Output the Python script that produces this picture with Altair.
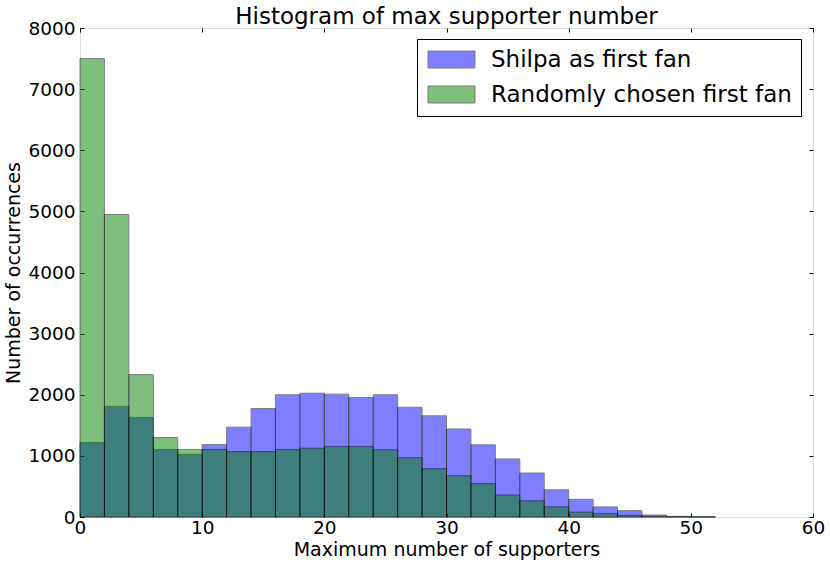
import altair as alt
import pandas as pd

# bin edges (width 2)
bin_start = [0, 2, 4, 6, 8, 10, 12, 14, 16, 18, 20, 22, 24, 26, 28, 30, 32, 34, 36, 38, 40, 42, 44, 46, 48, 50]
bin_width = 2
shilpa = [1220, 1810, 1630, 1105, 1025, 1185, 1470, 1775, 2000, 2025, 2010, 1955, 2000, 1795,
          1655, 1440, 1180, 950, 720, 445, 290, 165, 105, 32, 10, 4]
random_fan = [7500, 4950, 2330, 1300, 1105, 1105, 1070, 1070, 1105, 1125, 1155, 1155, 1100, 970,
              790, 675, 545, 360, 265, 165, 80, 55, 25, 12, 4, 1]
series_names = ["Shilpa as first fan", "Randomly chosen first fan"]
series_colors = ["#0000ff", "#008000"]
x_ticks = [0, 10, 20, 30, 40, 50, 60]
y_ticks = [0, 1000, 2000, 3000, 4000, 5000, 6000, 7000, 8000]

rows = []
for name, vals in zip(series_names, [shilpa, random_fan]):
    for s, v in zip(bin_start, vals):
        rows.append({"series": name, "start": s, "end": s + bin_width, "count": v})
df = pd.DataFrame(rows)

FONT = "DejaVu Sans"
W, H = 733, 489
# wide rectangle swatch (47 x 17 px at symbolSize 289)
rect_path = "M-2.765,-1L2.765,-1L2.765,1L-2.765,1Z"

x_scale = alt.Scale(domain=[0, 60], nice=False, zero=False)
y_scale = alt.Scale(domain=[0, 8000], nice=False)

main = alt.Chart(df).mark_bar(
    opacity=0.5, stroke="black", strokeWidth=1, binSpacing=0
).encode(
    x=alt.X("start:Q", scale=x_scale,
            axis=alt.Axis(values=x_ticks, title="Maximum number of supporters", grid=False,
                          ticks=False, domain=False, labelFlush=False, labelOverlap=False,
                          format="d",
                          labelFontSize=18.5, labelFont=FONT, labelColor="black",
                          labelPadding=1, titleFontSize=19, titleFont=FONT,
                          titleFontWeight="normal", titleColor="black", titlePadding=4)),
    x2="end:Q",
    y=alt.Y("count:Q", stack=None, scale=y_scale,
            axis=alt.Axis(values=y_ticks, title="Number of occurrences", grid=False,
                          ticks=False, domain=False, labelFlush=False, labelOverlap=False,
                          format="d",
                          labelFontSize=18.5, labelFont=FONT, labelColor="black",
                          labelPadding=5, titleFontSize=19, titleFont=FONT,
                          titleFontWeight="normal", titleColor="black", titlePadding=4)),
    y2=alt.datum(0),
    color=alt.Color("series:N", sort=series_names,
                    scale=alt.Scale(domain=series_names, range=series_colors),
                    legend=alt.Legend(orient="none", legendX=337, legendY=11, title=None,
                                      fillColor="white", strokeColor="black", padding=9,
                                      symbolType=rect_path, symbolSize=289,
                                      symbolOffset=14,
                                      symbolOpacity=0.5, symbolStrokeColor="black",
                                      symbolStrokeWidth=1, labelFontSize=23, labelFont=FONT,
                                      labelColor="black", labelOffset=28, rowPadding=11,
                                      labelLimit=400)),
    order=alt.Order("order_key:Q"),
).transform_calculate(
    order_key="datum.series == 'Shilpa as first fan' ? 0 : 1"
)


def tick_axis(orient, n, vals):
    return alt.Axis(orient=orient, offset=-n, values=vals, labels=False, title=None,
                    grid=False, domain=False, ticks=True, tickSize=4,
                    tickColor="black", tickWidth=1)


def ticks_layer(x_orient, y_orient):
    return alt.Chart(df).mark_bar(opacity=0).encode(
        x=alt.X("start:Q", scale=x_scale, axis=tick_axis(x_orient, H, x_ticks)),
        x2="end:Q",
        y=alt.Y("count:Q", stack=None, scale=y_scale, axis=tick_axis(y_orient, W, y_ticks)),
        y2=alt.datum(0),
    )


chart = alt.layer(
    main, ticks_layer("top", "right"), ticks_layer("bottom", "left")
).resolve_axis(x="independent", y="independent").properties(
    width=W, height=H,
    title=alt.Title("Histogram of max supporter number", fontSize=23, font=FONT,
                    fontWeight="normal", color="black", anchor="middle", frame="group",
                    baseline="alphabetic", offset=-28),
    autosize=alt.AutoSizeParams(type="none"),
    padding={"left": 80, "top": 28, "right": 17, "bottom": 49},
).configure_view(
    stroke="black", strokeWidth=1, fill="white"
).configure(background="white")

chart.save("out.html", embed_options={"renderer": "svg", "actions": False})
